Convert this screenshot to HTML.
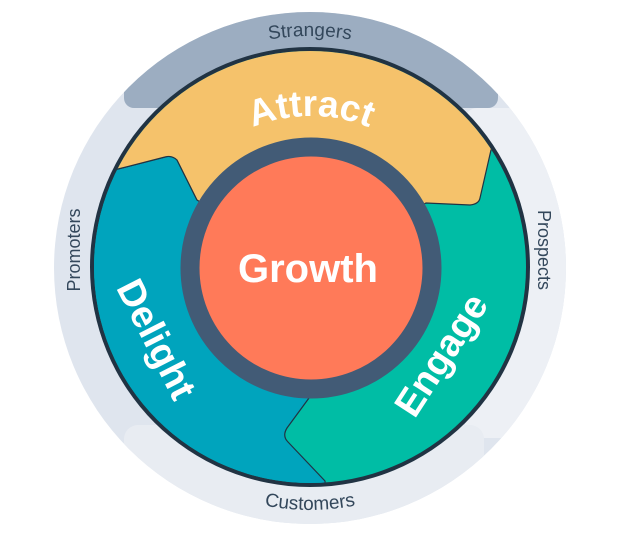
<!DOCTYPE html>
<html><head><meta charset="utf-8"><style>
html,body{margin:0;padding:0;background:#fff;width:623px;height:533px;overflow:hidden}
svg{display:block}
text{font-family:"Liberation Sans",sans-serif}
</style></head><body>
<svg width="623" height="533" viewBox="0 0 623 533" xmlns="http://www.w3.org/2000/svg">
<defs>
<clipPath id="outer"><circle cx="310" cy="268" r="256"/></clipPath>
<clipPath id="inner"><circle cx="310" cy="267" r="216"/></clipPath>
<path id="arcS" d="M 78 268 A 232 232 0 0 1 542 268"/>
<path id="arcA" d="M 158 269 A 153 153 0 0 1 464 269"/>
<path id="arcC" d="M 68 268 A 242 242 0 0 0 552 268"/>
</defs>
<g clip-path="url(#outer)">
<rect x="0" y="0" width="623" height="533" fill="#dfe5ee"/>
<rect x="465" y="108" width="150" height="330" rx="12" fill="#edf0f5"/>
<rect x="124" y="425" width="360" height="130" rx="14" fill="#e8ecf2"/>
<rect x="124" y="-20" width="374" height="128" rx="10" fill="#9cadc1"/>
</g>
<circle cx="310" cy="267" r="220" fill="#213343"/>
<g clip-path="url(#inner)">
<rect x="0" y="0" width="623" height="533" fill="#00bda5"/>
<path d="M40 182 L118 169 L165 157 Q172 155 177 160 L197 200 L311 268 L309 398 L287 428 Q282 436 288 442 L325 481 L330 560 L40 560 Z" fill="#00a4bd" stroke="#213343" stroke-width="1.2"/>
<path d="M40 182 L118 169 L165 157 Q172 155 177 160 L197 200 L311 268 L426 203 L470 205 Q479 204 480 198 L491 150 L580 120 L580 0 L40 0 Z" fill="#f5c26b" stroke="#213343" stroke-width="1.2"/>
</g>
<circle cx="311" cy="268" r="121" fill="#ff7a59" stroke="#425b76" stroke-width="19"/>
<text font-size="19" fill="#33475b" text-anchor="middle"><textPath href="#arcS" startOffset="50%">Strangers</textPath></text>
<text font-size="19" fill="#33475b" text-anchor="middle"><textPath href="#arcC" startOffset="50%" side="left">Customers</textPath></text>
<text font-size="18" fill="#33475b" text-anchor="middle" transform="translate(80 250) rotate(-90)">Promoters</text>
<text font-size="18" fill="#33475b" text-anchor="middle" transform="translate(538 250) rotate(90)">Prospects</text>
<text font-size="37" font-weight="bold" fill="#fff" text-anchor="middle"><textPath href="#arcA" startOffset="50%">Attract</textPath></text>
<text x="308" y="282" font-size="40" font-weight="bold" fill="#fff" text-anchor="middle">Growth</text>
<text font-size="38" font-weight="bold" fill="#fff" text-anchor="middle" transform="translate(145 345) rotate(63)">Delight</text>
<text font-size="38" font-weight="bold" fill="#fff" text-anchor="middle" transform="translate(452 362) rotate(-57)">Engage</text>
</svg>
</body></html>
